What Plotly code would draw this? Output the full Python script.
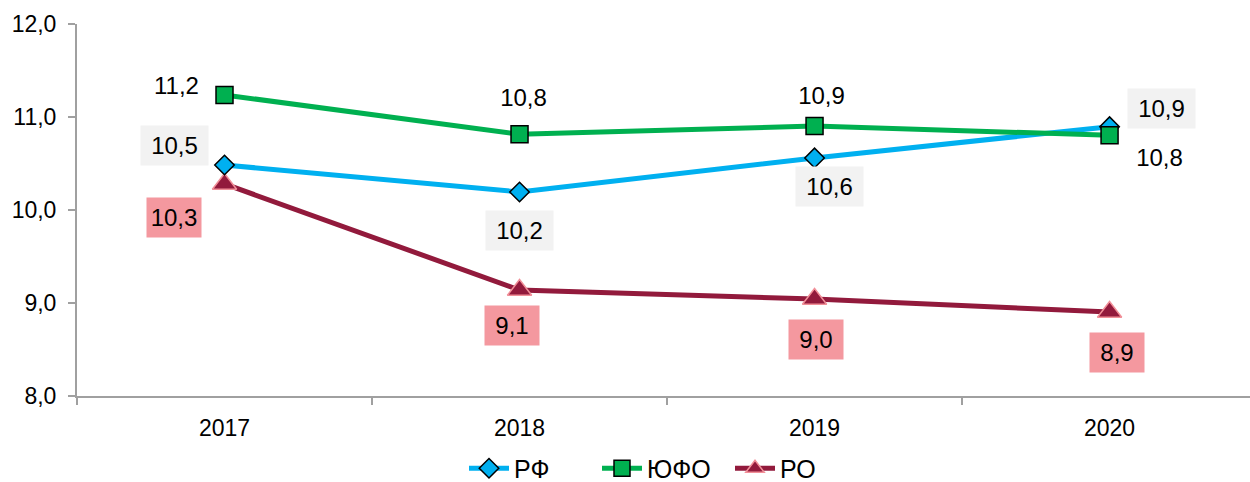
import plotly.graph_objects as go

# Data
years = ["2017", "2018", "2019", "2020"]
rf = [10.484, 10.194, 10.56, 10.896]      # РФ
yufo = [11.237, 10.814, 10.903, 10.803]   # ЮФО
ro = [10.28, 9.14, 9.043, 8.903]          # РО
y_ticks = [8, 9, 10, 11, 12]

FONT = "Liberation Sans, Arial, sans-serif"
BLUE = "#00b0f0"
GREEN = "#00b050"
MAROON = "#921a3c"
PINK = "#f4989f"
PINK_EDGE = "#f18f98"
GREY_BOX = "#f2f2f2"
AXIS = "#a0a0a0"


def fmt(v):
    return f"{v:.1f}".replace(".", ",")


fig = go.Figure()

fig.add_trace(go.Scatter(
    x=years, y=ro, name="РО", mode="lines+markers", legendrank=3,
    line=dict(color=MAROON, width=5),
    marker=dict(symbol="triangle-up", size=21, color=MAROON,
                line=dict(color=PINK_EDGE, width=1.5)),
))
fig.add_trace(go.Scatter(
    x=years, y=rf, name="РФ", mode="lines+markers", legendrank=1,
    line=dict(color=BLUE, width=5),
    marker=dict(symbol="diamond", size=15, color=BLUE,
                line=dict(color="black", width=1.5)),
))
fig.add_trace(go.Scatter(
    x=years, y=yufo, name="ЮФО", mode="lines+markers", legendrank=2,
    line=dict(color=GREEN, width=5),
    marker=dict(symbol="square", size=17, color=GREEN,
                line=dict(color="black", width=1.5)),
))

# label offsets (px) for each point: (xshift, yshift)
rf_off = [(-50, 19), (0, -39), (15, -29), (52, 18)]
yufo_off = [(-48, 9), (4, 37), (7, 31), (50, -22)]
ro_off = [(-51, -34), (-8, -36), (1, -40), (7, -40)]

annotations = []
for vals, offs, bg, w in [(rf, rf_off, GREY_BOX, 67),
                          (yufo, yufo_off, "rgba(0,0,0,0)", 67),
                          (ro, ro_off, PINK, 54)]:
    for i, (v, (dx, dy)) in enumerate(zip(vals, offs)):
        # category axes take the category index for annotation positions
        annotations.append(dict(
            x=i, y=v, xref="x", yref="y", text=fmt(v), showarrow=False,
            xshift=dx, yshift=dy, bgcolor=bg, width=w, height=39,
            borderpad=0, font=dict(family=FONT, size=24, color="black"),
        ))

fig.update_layout(
    width=1250, height=482,
    margin=dict(l=77, r=0, t=24, b=86, autoexpand=False),
    paper_bgcolor="white", plot_bgcolor="white",
    separators=",.",
    font=dict(family=FONT, size=23, color="black"),
    annotations=annotations,
    showlegend=True,
    legend=dict(orientation="h", x=0.5, xanchor="center",
                y=-0.195, yanchor="middle",
                font=dict(family=FONT, size=25), itemwidth=40,
                entrywidth=78, traceorder="normal"),
)

fig.update_xaxes(
    type="category", range=[-0.5, 3.476],
    showline=True, linecolor=AXIS, linewidth=2,
    ticks="outside", tickson="boundaries", ticklen=7, tickcolor=AXIS,
    tickwidth=2, showgrid=False, zeroline=False,
    ticklabelstandoff=10,
    tickfont=dict(family=FONT, size=23),
)
fig.update_yaxes(
    range=[8, 12], tickvals=y_ticks, tickformat=".1f",
    showline=True, linecolor=AXIS, linewidth=2,
    ticks="outside", ticklen=7, tickcolor=AXIS, tickwidth=2,
    showgrid=False, zeroline=False,
    ticklabelstandoff=7,
    tickfont=dict(family=FONT, size=23),
)

fig.write_html("out.html")
